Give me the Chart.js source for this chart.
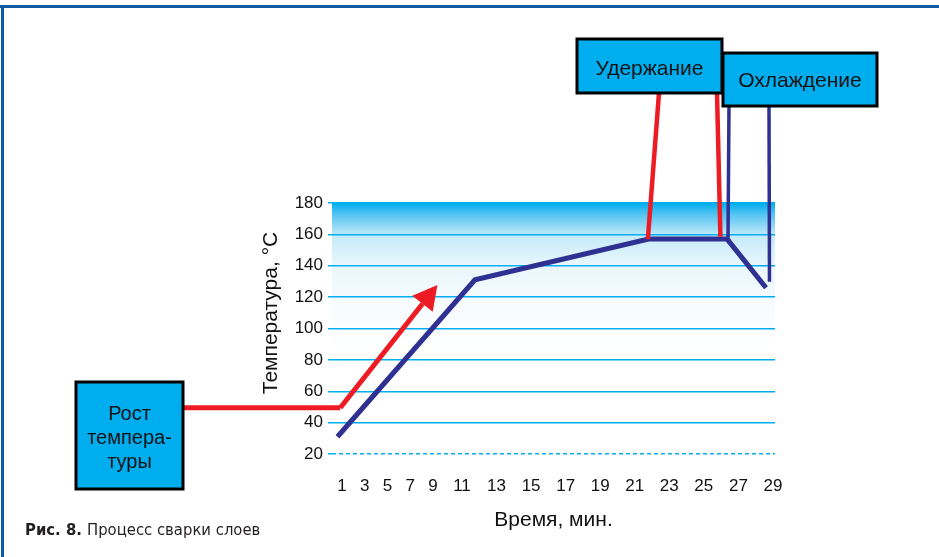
<!DOCTYPE html>
<html lang="ru">
  <head>
    <meta charset="UTF-8" />
    <title>Процесс сварки слоев</title>
    <style>
      body {
        margin: 0;
        background: #fff;
      }
      canvas {
        display: block;
      }
    </style>
  </head>
  <body>
    <canvas id="weldChart" width="939" height="557"></canvas>

    <script src="https://cdn.jsdelivr.net/npm/chart.js@4"></script>
    <script>
      // time axis ticks, minutes
      const timeTicks = [1, 3, 5, 7, 9, 11, 13, 15, 17, 19, 21, 23, 25, 27, 29];
      const tempTicks = [20, 40, 60, 80, 100, 120, 140, 160, 180];

      // part temperature (blue)
      const partTime = [0.6, 11.75, 21.8, 26.35, 28.6];
      const partTemp = [31, 131, 157, 157, 126];

      // heating arrow (red)
      const heatTime = [0.85, 8.08];
      const heatTemp = [49.5, 115.8];

      // points the phase labels point to
      const holdTime = [21.76, 25.96];
      const holdTemp = [157, 158.5];
      const coolTime = [26.4, 28.8];
      const coolTemp = [157.3, 129.8];

      const phaseLabels = {
        heat: ["Рост", "темпера-", "туры"],
        hold: ["Удержание"],
        cool: ["Охлаждение"],
      };

      const BLUE = "#2e3192";
      const RED = "#ed1c24";
      const CYAN = "#00aeef";
      const FONT = "'Liberation Sans', Arial, sans-serif";
      const CAPTION_FONT = "'Liberation Sans Narrow', 'DejaVu Sans Condensed', sans-serif";

      // the printed time axis is not uniform: early minutes are squeezed
      const warpAt = [1, 9, 11, 29];
      const warpLen = [0, 91, 120, 431];
      function warp(v) {
        let i = 0;
        if (v > warpAt[2]) i = 2;
        else if (v > warpAt[1]) i = 1;
        const k = (warpLen[i + 1] - warpLen[i]) / (warpAt[i + 1] - warpAt[i]);
        return warpLen[i] + (v - warpAt[i]) * k;
      }
      function unwarp(w) {
        let i = 0;
        if (w > warpLen[2]) i = 2;
        else if (w > warpLen[1]) i = 1;
        const k = (warpAt[i + 1] - warpAt[i]) / (warpLen[i + 1] - warpLen[i]);
        return warpAt[i] + (w - warpLen[i]) * k;
      }

      class WarpScale extends Chart.LinearScale {
        getPixelForValue(value) {
          const a = warp(this.min);
          const b = warp(this.max);
          return this.getPixelForDecimal((warp(value) - a) / (b - a));
        }
        getValueForPixel(pixel) {
          const a = warp(this.min);
          const b = warp(this.max);
          return unwarp(a + this.getDecimalForPixel(pixel) * (b - a));
        }
      }
      WarpScale.id = "warp";
      WarpScale.defaults = {};
      Chart.register(WarpScale);

      const toPoints = (xs, ys) => xs.map((x, i) => ({ x: x, y: ys[i] }));

      // boxes are layout only, anchors come from the data above
      const boxes = [
        { key: "heat", x: 76, y: 382, w: 107, h: 107, size: 20, lineY: [420, 444, 468] },
        { key: "hold", x: 577, y: 39, w: 145, h: 54, size: 21, lineY: [75] },
        { key: "cool", x: 723, y: 53, w: 154, h: 53, size: 21, lineY: [87] },
      ];

      const decorPlugin = {
        id: "decor",
        beforeDraw(chart) {
          const { ctx, chartArea: a } = chart;
          ctx.save();
          // page frame
          ctx.fillStyle = "#0d5aa5";
          ctx.fillRect(0, 5, chart.width, 3);
          ctx.fillRect(1, 5, 3, chart.height);
          // temperature band
          const g = ctx.createLinearGradient(0, a.top, 0, a.bottom);
          g.addColorStop(0, "#00aeef");
          g.addColorStop(0.05, "#5ac6f2");
          g.addColorStop(0.13, "#c6eafa");
          g.addColorStop(0.25, "#e9f7fd");
          g.addColorStop(0.42, "#f8fcfe");
          g.addColorStop(0.6, "#ffffff");
          ctx.fillStyle = g;
          ctx.fillRect(a.left, a.top, a.right - a.left, a.bottom - a.top);
          ctx.restore();
        },
        afterDatasetsDraw(chart) {
          const { ctx } = chart;
          const xs = chart.scales.x;
          const ys = chart.scales.y;
          const px = (t) => xs.getPixelForValue(t);
          const py = (v) => ys.getPixelForValue(v);
          ctx.save();

          // arrow head on the heating line
          const n = heatTime.length;
          const x0 = px(heatTime[n - 2]), y0 = py(heatTemp[n - 2]);
          const x1 = px(heatTime[n - 1]), y1 = py(heatTemp[n - 1]);
          const ang = Math.atan2(y1 - y0, x1 - x0);
          const len = 24, half = 13;
          ctx.fillStyle = RED;
          ctx.beginPath();
          ctx.moveTo(x1 + Math.cos(ang) * len, y1 + Math.sin(ang) * len);
          ctx.lineTo(x1 + Math.cos(ang + Math.PI / 2) * half, y1 + Math.sin(ang + Math.PI / 2) * half);
          ctx.lineTo(x1 - Math.cos(ang + Math.PI / 2) * half, y1 - Math.sin(ang + Math.PI / 2) * half);
          ctx.closePath();
          ctx.fill();

          // leader from "Рост температуры" to the start of heating
          const heat = boxes[0];
          ctx.strokeStyle = RED;
          ctx.lineWidth = 5;
          ctx.beginPath();
          ctx.moveTo(heat.x + heat.w, py(heatTemp[0]));
          ctx.lineTo(px(heatTime[0]), py(heatTemp[0]));
          ctx.stroke();

          // leaders from "Удержание"
          const hold = boxes[1];
          const holdTop = [hold.x + 82, hold.x + 140];
          ctx.lineWidth = 4.5;
          holdTime.forEach((t, i) => {
            ctx.beginPath();
            ctx.moveTo(px(t), py(holdTemp[i]));
            ctx.lineTo(holdTop[i], hold.y + hold.h);
            ctx.stroke();
          });

          // leaders from "Охлаждение"
          const cool = boxes[2];
          const coolTop = [cool.x + 6, cool.x + 46];
          ctx.strokeStyle = BLUE;
          ctx.lineWidth = 3.5;
          coolTime.forEach((t, i) => {
            ctx.beginPath();
            ctx.moveTo(px(t), py(coolTemp[i]));
            ctx.lineTo(coolTop[i], cool.y + cool.h);
            ctx.stroke();
          });

          // label boxes
          ctx.lineWidth = 3;
          ctx.strokeStyle = "#000";
          ctx.textAlign = "center";
          ctx.textBaseline = "alphabetic";
          boxes.forEach((b) => {
            ctx.fillStyle = CYAN;
            ctx.fillRect(b.x, b.y, b.w, b.h);
            ctx.strokeRect(b.x, b.y, b.w, b.h);
            ctx.fillStyle = "#111";
            ctx.font = b.size + "px " + FONT;
            phaseLabels[b.key].forEach((s, i) => {
              ctx.fillText(s, b.x + b.w / 2, b.lineY[i]);
            });
          });

          // y axis title
          ctx.save();
          ctx.translate(271, 313);
          ctx.rotate(-Math.PI / 2);
          ctx.textBaseline = "middle";
          ctx.font = "21px " + FONT;
          ctx.fillText("Температура, °C", 0, 0);
          ctx.restore();

          // figure caption
          ctx.textAlign = "left";
          ctx.fillStyle = "#231f20";
          ctx.font = "bold 16.5px " + CAPTION_FONT;
          const lead = "Рис. 8.";
          ctx.fillText(lead, 25, 535);
          const w = ctx.measureText(lead + " ").width;
          ctx.font = "16.5px " + CAPTION_FONT;
          ctx.fillText("Процесс сварки слоев", 25 + w, 535);

          ctx.restore();
        },
      };

      new Chart(document.getElementById("weldChart"), {
        type: "line",
        data: {
          datasets: [
            {
              label: "Температура",
              data: toPoints(partTime, partTemp),
              borderColor: BLUE,
              borderWidth: 5,
              pointRadius: 0,
              tension: 0,
              clip: false,
            },
            {
              label: "Рост температуры",
              data: toPoints(heatTime, heatTemp),
              borderColor: RED,
              borderWidth: 5,
              pointRadius: 0,
              tension: 0,
              clip: false,
            },
          ],
        },
        options: {
          responsive: false,
          animation: false,
          events: [],
          layout: {
            padding: { left: 272, top: 203, right: 164, bottom: 0 },
          },
          plugins: {
            legend: { display: false },
            tooltip: { enabled: false },
          },
          scales: {
            x: {
              type: "warp",
              min: 0.12,
              max: 29.12,
              afterBuildTicks: (s) => {
                s.ticks = timeTicks.map((v) => ({ value: v }));
              },
              afterFit: (s) => {
                s.height = 103;
              },
              grid: { display: false, drawTicks: false },
              border: { display: false },
              ticks: {
                autoSkip: false,
                maxRotation: 0,
                padding: 22,
                color: "#111",
                font: { family: FONT, size: 17 },
                callback: (v) => String(v),
              },
              title: {
                display: true,
                text: "Время, мин.",
                color: "#111",
                font: { family: FONT, size: 21 },
                padding: { top: 0, bottom: 24 },
              },
            },
            y: {
              type: "linear",
              min: 20,
              max: 180,
              afterBuildTicks: (s) => {
                s.ticks = tempTicks.map((v) => ({ value: v }));
              },
              afterFit: (s) => {
                s.width = 60;
              },
              grid: {
                color: CYAN,
                lineWidth: 1.5,
                tickLength: 4,
                tickColor: CYAN,
                tickBorderDash: (c) => (c.tick && c.tick.value === 20 ? [4, 3] : []),
              },
              border: {
                display: false,
                dash: (c) => (c.tick && c.tick.value === 20 ? [4, 3] : []),
              },
              ticks: {
                padding: 5,
                color: "#111",
                font: { family: FONT, size: 17 },
              },
            },
          },
        },
        plugins: [decorPlugin],
      });
    </script>
  </body>
</html>
